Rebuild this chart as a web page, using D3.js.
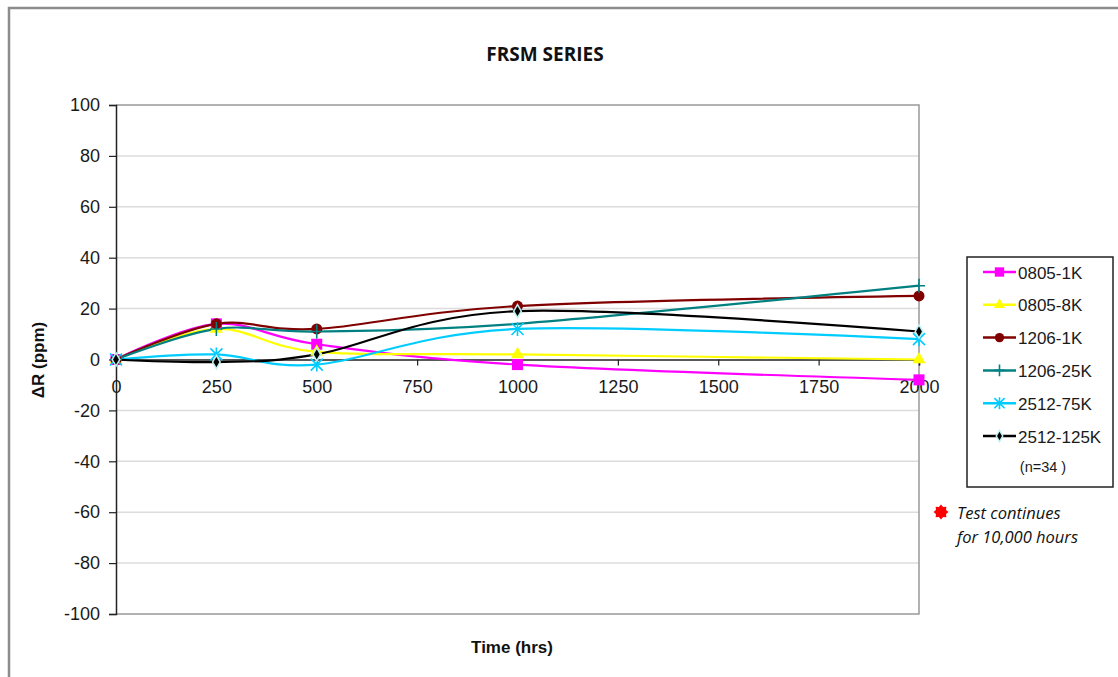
<!DOCTYPE html>
<html>
<head>
<meta charset="utf-8">
<script src="https://cdn.jsdelivr.net/npm/d3@7"></script>
<style>
  body { margin: 0; background: #fff; }
  svg { display: block; font-family: "Liberation Sans", Arial, sans-serif; }
</style>
</head>
<body>
<svg width="1118" height="677"></svg>
<script>
// data
const hours = [0, 250, 500, 1000, 2000];
const xTicks = [0, 250, 500, 750, 1000, 1250, 1500, 1750, 2000];
const yTicks = [100, 80, 60, 40, 20, 0, -20, -40, -60, -80, -100];
const seriesNames = ["0805-1K", "0805-8K", "1206-1K", "1206-25K", "2512-75K", "2512-125K"];
const s0805_1K = [0, 14, 6, -2, -8];
const s0805_8K = [0, 12, 3, 2, 0];
const s1206_1K = [0, 14, 12, 21, 25];
const s1206_25K = [0, 12, 11, 14, 29];
const s2512_75K = [0, 2, -2, 12, 8];
const s2512_125K = [0, -1, 2, 19, 11];

const seriesValues = [s0805_1K, s0805_8K, s1206_1K, s1206_25K, s2512_75K, s2512_125K];
const colors = ["#ff00ff", "#ffff00", "#800000", "#008080", "#00ccff", "#000000"];
const markers = ["square", "triangle", "circle", "plus", "star", "diamond"];

const svg = d3.select("svg");

// outer frame (only top and left visible in the picture)
svg.append("path")
  .attr("d", "M9,680 L9,8 L1120,8")
  .attr("fill", "none")
  .attr("stroke", "#8c8c8c")
  .attr("stroke-width", 2.5);

const plot = { left: 116, right: 919, top: 105, bottom: 614 };

const x = d3.scaleLinear().domain([0, 2000]).range([plot.left, plot.right]);
const y = d3.scaleLinear().domain([-100, 100]).range([plot.bottom, plot.top]);

// gridlines
svg.append("g")
  .selectAll("line")
  .data(yTicks.filter(d => d !== 100 && d !== -100 && d !== 0))
  .join("line")
  .attr("x1", plot.left).attr("x2", plot.right)
  .attr("y1", d => y(d)).attr("y2", d => y(d))
  .attr("stroke", "#dcdcdc")
  .attr("stroke-width", 1.5);

// plot border top / right / bottom
svg.append("path")
  .attr("d", `M${plot.left},${plot.top} H${plot.right} V${plot.bottom} H${plot.left}`)
  .attr("fill", "none")
  .attr("stroke", "#999")
  .attr("stroke-width", 1.5);

// y axis
const yAxis = svg.append("g")
  .attr("transform", `translate(${plot.left},0)`)
  .call(d3.axisLeft(y).tickValues(yTicks).tickFormat(d => String(d)).tickSize(7).tickPadding(9));
yAxis.select(".domain").attr("stroke", "#222").attr("stroke-width", 1.5);
yAxis.selectAll(".tick line").attr("stroke", "#222").attr("stroke-width", 1.2);
yAxis.selectAll("text").attr("font-size", 18).attr("fill", "#1a1a1a")
  .attr("font-family", "'Liberation Sans', Arial, sans-serif");

// x axis on the zero line
const xAxis = svg.append("g")
  .attr("transform", `translate(0,${y(0)})`)
  .call(d3.axisBottom(x).tickValues(xTicks).tickFormat(d => String(d)).tickSize(6).tickPadding(15));
xAxis.select(".domain").attr("stroke", "#222").attr("stroke-width", 1.5);
xAxis.selectAll(".tick line").attr("stroke", "#222").attr("stroke-width", 1.2);
xAxis.selectAll("text").attr("font-size", 18).attr("fill", "#1a1a1a")
  .attr("font-family", "'Liberation Sans', Arial, sans-serif");

// smoothed lines, like Excel's smoothed line option
const line = d3.line()
  .x((d, i) => x(hours[i]))
  .y(d => y(d))
  .curve(d3.curveCardinal.tension(0));

svg.append("g")
  .selectAll("path")
  .data(seriesValues)
  .join("path")
  .attr("d", d => line(d))
  .attr("fill", "none")
  .attr("stroke", (d, i) => colors[i])
  .attr("stroke-width", 2.2);

function drawMarker(g, type, color, scale) {
  const k = scale || 1;
  if (type === "square") {
    g.append("rect").attr("x", -5.5 * k).attr("y", -5.5 * k)
      .attr("width", 11 * k).attr("height", 11 * k).attr("fill", color);
  } else if (type === "triangle") {
    g.append("path").attr("d", d3.symbol(d3.symbolTriangle, 75 * k * k)()).attr("fill", color);
  } else if (type === "circle") {
    g.append("circle").attr("r", 5.5 * k).attr("fill", color);
  } else if (type === "plus") {
    g.append("path").attr("d", `M${-6 * k},0 H${6 * k} M0,${-7 * k} V${7 * k}`)
      .attr("stroke", color).attr("stroke-width", 1.6);
  } else if (type === "star") {
    g.append("path")
      .attr("d", `M${-6 * k},${-6 * k} L${6 * k},${6 * k} M${-6 * k},${6 * k} L${6 * k},${-6 * k} M0,${-7 * k} V${7 * k}`)
      .attr("stroke", color).attr("stroke-width", 1.6);
  } else if (type === "diamond") {
    g.append("path").attr("d", d3.symbol(d3.symbolDiamond, 50 * k * k)())
      .attr("fill", "#000").attr("stroke", "#bfeff0").attr("stroke-width", 1.5);
  }
}

// markers
seriesValues.forEach((vals, si) => {
  const mg = svg.append("g");
  vals.forEach((v, i) => {
    if (markers[si] === "plus" && i === 3) return;
    const g = mg.append("g").attr("transform", `translate(${x(hours[i])},${y(v)})`);
    drawMarker(g, markers[si], colors[si], 1);
  });
});

// title and axis titles
svg.append("text")
  .attr("x", 545).attr("y", 61)
  .attr("text-anchor", "middle")
  .attr("font-family", "'Open Sans', sans-serif")
  .attr("font-weight", "bold")
  .attr("font-size", 19)
  .attr("fill", "#111")
  .text("FRSM SERIES");

svg.append("text")
  .attr("x", 512).attr("y", 653)
  .attr("text-anchor", "middle")
  .attr("font-weight", "bold")
  .attr("font-size", 17)
  .attr("fill", "#111")
  .text("Time (hrs)");

svg.append("text")
  .attr("transform", "translate(44,360) rotate(-90)")
  .attr("text-anchor", "middle")
  .attr("font-weight", "bold")
  .attr("font-size", 17)
  .attr("fill", "#111")
  .text("ΔR (ppm)");

// legend
const legend = svg.append("g");
legend.append("rect")
  .attr("x", 967).attr("y", 257)
  .attr("width", 146).attr("height", 230)
  .attr("fill", "#fff")
  .attr("stroke", "#222")
  .attr("stroke-width", 1.5);

const legendY = d3.scalePoint().domain(seriesNames).range([272, 436]);

seriesNames.forEach((name, i) => {
  const ly = legendY(name);
  legend.append("line")
    .attr("x1", 983).attr("x2", 1016)
    .attr("y1", ly).attr("y2", ly)
    .attr("stroke", colors[i]).attr("stroke-width", 2.5);
  const g = legend.append("g").attr("transform", `translate(999.5,${ly})`);
  drawMarker(g, markers[i], colors[i], 0.85);
  legend.append("text")
    .attr("x", 1018).attr("y", ly + 6.5)
    .attr("font-size", 17)
    .attr("fill", "#1a1a1a")
    .text(name);
});

legend.append("text")
  .attr("x", 1043).attr("y", 472)
  .attr("text-anchor", "middle")
  .attr("font-size", 14.5)
  .attr("fill", "#1a1a1a")
  .text("(n=34 )");

// note: red blob marker
const blob = d3.lineRadial()
  .angle(d => d[0])
  .radius(d => d[1])
  .curve(d3.curveLinearClosed);
const blobPts = d3.range(16).map(i => [i * Math.PI / 8, i % 2 ? 5.5 : 7.5]);
const note = svg.append("g");
note.append("path")
  .attr("transform", "translate(941,512)")
  .attr("d", blob(blobPts))
  .attr("fill", "#ff0000");
note.append("text")
  .attr("x", 957).attr("y", 519)
  .attr("font-family", "'Open Sans', sans-serif")
  .attr("font-style", "italic")
  .attr("font-size", 16.5)
  .attr("fill", "#111")
  .text("Test continues");
note.append("text")
  .attr("x", 957).attr("y", 543)
  .attr("font-family", "'Open Sans', sans-serif")
  .attr("font-style", "italic")
  .attr("font-size", 16.5)
  .attr("fill", "#111")
  .text("for 10,000 hours");
</script>
</body>
</html>
